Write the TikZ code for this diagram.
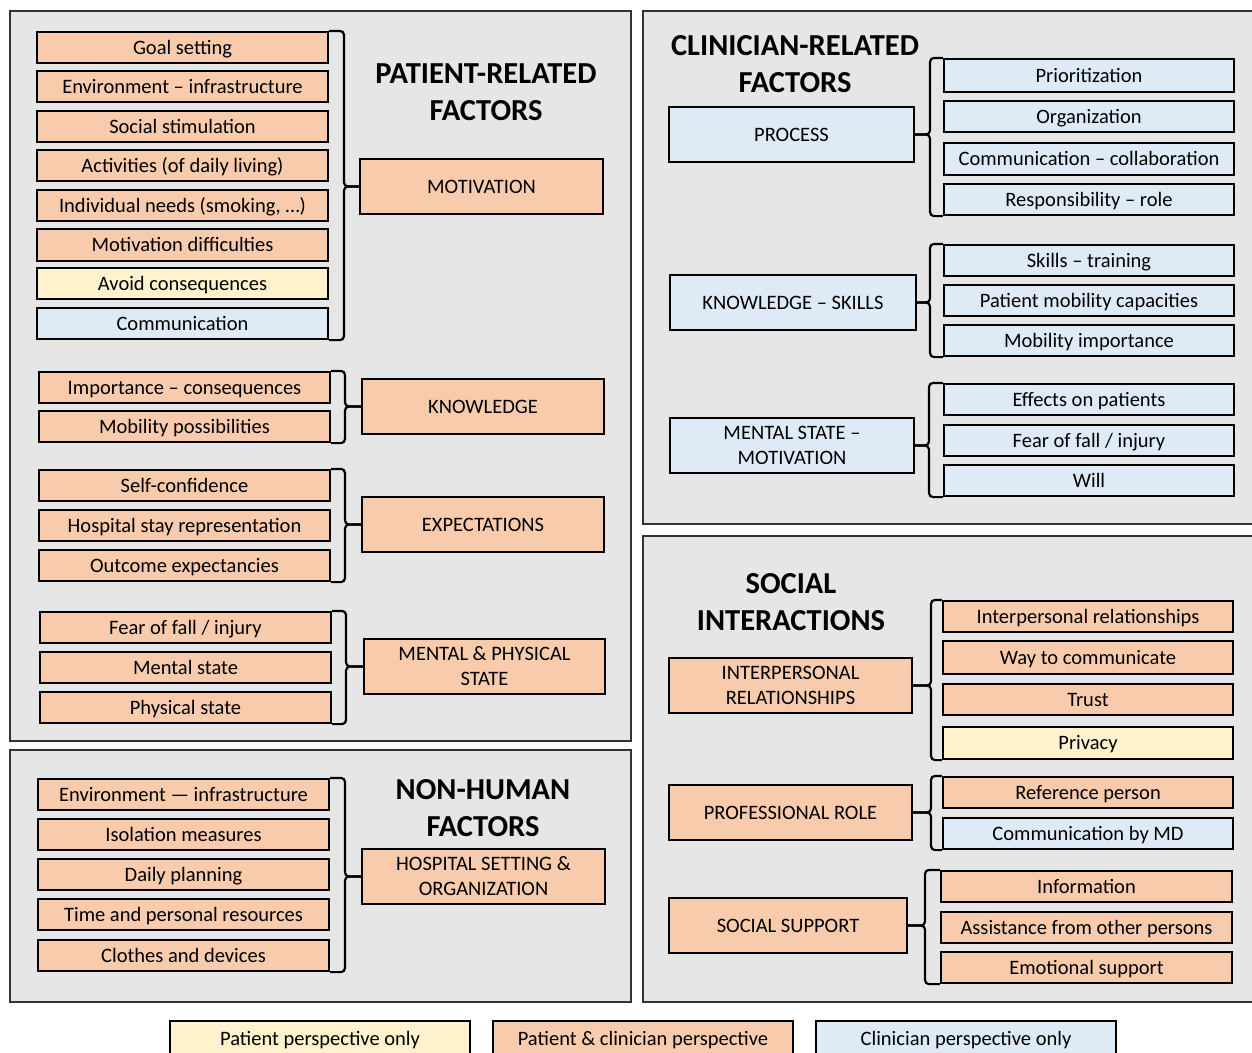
\documentclass[tikz,border=0pt]{standalone}
\usepackage{fontspec}
\setmainfont{Carlito}
\definecolor{orng}{HTML}{F8CBAD}
\definecolor{yel}{HTML}{FFF2CC}
\definecolor{blu}{HTML}{DEEBF7}
\definecolor{pgray}{HTML}{E6E6E6}
\newcommand\bx[8][]{\node[box,#1,fill=#7,minimum width={#5-#3},minimum height={#6-#4}] (#2) at ({(#3+#5)/2},{(#4+#6)/2}) {#8};}
% bracket on right of items (left panels)
\newcommand\brR[4]{\coordinate (bk) at (#3,0);
  \draw[brk] (#1.north east) -- (#1.north east -| bk) -- (#4.west -| bk) -- (#4.west);
  \draw[brk] (#2.south east) -- (#2.south east -| bk) -- (#4.west -| bk) -- (#4.west);}
% bracket on left of items (right panels)
\newcommand\brL[4]{\coordinate (bk) at (#3,0);
  \draw[brk] (#1.north west) -- (#1.north west -| bk) -- (#4.east -| bk) -- (#4.east);
  \draw[brk] (#2.south west) -- (#2.south west -| bk) -- (#4.east -| bk) -- (#4.east);}
\begin{document}
\begin{tikzpicture}[x=1pt,y=-1pt,
  box/.style={draw=black,line width=2.2pt,inner sep=0pt,align=center,font=\fontsize{20.5}{25}\selectfont,text height=13.5pt,text depth=0pt},
  ml/.style={text height={},text depth={},yshift=-1pt},
  panel/.style={draw=black!80,line width=1.5pt,fill=pgray},
  brk/.style={line width=2.2pt,rounded corners=4pt},
  ttl/.style={font=\fontsize{30.5}{37}\selectfont\bfseries,align=center},
  lgt/.style={font=\fontsize{20.5}{25}\selectfont,text height=13.5pt,text depth=0pt}]
\useasboundingbox (0,0) rectangle (1252,1052);
\fill[white] (0,0) rectangle (1252,1052);
% panels
\draw[panel] (10,11) rectangle (631,741);
\draw[panel] (10,750) rectangle (631,1002);
\draw[panel] (643,11) rectangle (1262,524);
\draw[panel] (643,536) rectangle (1262,1002);
% titles
\node[ttl] (tpat) at (486,92) {PATIENT-RELATED\\FACTORS};
\node[ttl] (tnon) at (483,808) {NON-HUMAN\\FACTORS};
\node[ttl] (tcli) at (795,64) {CLINICIAN-RELATED\\FACTORS};
\node[ttl] (tsoc) at (791,602) {SOCIAL\\INTERACTIONS};
% patient: motivation
\bx{m1}{37}{32}{328}{63}{orng}{Goal setting}
\bx{m2}{37}{71}{328}{102}{orng}{Environment – infrastructure}
\bx{m3}{37}{111}{328}{142}{orng}{Social stimulation}
\bx{m4}{37}{150}{328}{181}{orng}{Activities (of daily living)}
\bx{m5}{37}{190}{328}{221}{orng}{Individual needs (smoking, …)}
\bx{m6}{37}{229}{328}{261}{orng}{Motivation difficulties}
\bx{m7}{37}{268}{328}{299}{yel}{Avoid consequences}
\bx{m8}{37}{308}{328}{339}{blu}{Communication}
\bx{mot}{360}{159}{603}{214}{orng}{MOTIVATION}
\brR{m1}{m8}{344}{mot}
% knowledge
\bx{k1}{39}{372}{330}{403}{orng}{Importance – consequences}
\bx{k2}{39}{411}{330}{442}{orng}{Mobility possibilities}
\bx{kno}{362}{379}{604}{434}{orng}{KNOWLEDGE}
\brR{k1}{k2}{345}{kno}
% expectations
\bx{e1}{39}{470}{330}{501}{orng}{Self-confidence}
\bx{e2}{39}{510}{330}{541}{orng}{Hospital stay representation}
\bx{e3}{39}{550}{330}{581}{orng}{Outcome expectancies}
\bx{exp}{362}{497}{604}{552}{orng}{EXPECTATIONS}
\brR{e1}{e3}{345}{exp}
% mental & physical
\bx{p1}{40}{612}{331}{643}{orng}{Fear of fall / injury}
\bx{p2}{40}{652}{331}{683}{orng}{Mental state}
\bx{p3}{40}{692}{331}{723}{orng}{Physical state}
\bx[ml]{mps}{364}{638}{605}{693}{orng}{MENTAL \& PHYSICAL\\STATE}
\brR{p1}{p3}{346}{mps}
% non-human
\bx{n1}{38}{779}{329}{810}{orng}{Environment — infrastructure}
\bx{n2}{38}{819}{329}{850}{orng}{Isolation measures}
\bx{n3}{38}{859}{329}{890}{orng}{Daily planning}
\bx{n4}{38}{899}{329}{930}{orng}{Time and personal resources}
\bx{n5}{38}{940}{329}{971}{orng}{Clothes and devices}
\bx[ml]{hos}{362}{848}{605}{903}{orng}{HOSPITAL SETTING \&\\ORGANIZATION}
\brR{n1}{n5}{345}{hos}
% clinician: process
\bx{c1}{944}{59}{1234}{92}{blu}{Prioritization}
\bx{c2}{944}{101}{1234}{132}{blu}{Organization}
\bx{c3}{944}{143}{1234}{175}{blu}{Communication – collaboration}
\bx{c4}{944}{184}{1234}{215}{blu}{Responsibility – role}
\bx{pro}{669}{107}{914}{162}{blu}{PROCESS}
\brL{c1}{c4}{930}{pro}
% knowledge - skills
\bx{s1}{944}{245}{1234}{276}{blu}{Skills – training}
\bx{s2}{944}{285}{1234}{316}{blu}{Patient mobility capacities}
\bx{s3}{944}{325}{1234}{356}{blu}{Mobility importance}
\bx{ksk}{670}{275}{916}{330}{blu}{KNOWLEDGE – SKILLS}
\brL{s1}{s3}{930}{ksk}
% mental state - motivation
\bx{f1}{944}{384}{1234}{415}{blu}{Effects on patients}
\bx{f2}{944}{425}{1234}{456}{blu}{Fear of fall / injury}
\bx{f3}{944}{465}{1234}{496}{blu}{Will}
\bx[ml]{msm}{670}{417}{914}{472}{blu}{MENTAL STATE –\\MOTIVATION}
\brL{f1}{f3}{929}{msm}
% social: interpersonal
\bx{i1}{943}{601}{1233}{632}{orng}{Interpersonal relationships}
\bx{i2}{943}{641}{1233}{674}{orng}{Way to communicate}
\bx{i3}{943}{684}{1233}{715}{orng}{Trust}
\bx{i4}{943}{727}{1233}{759}{yel}{Privacy}
\bx[ml]{ipr}{669}{657}{912}{712}{orng}{INTERPERSONAL\\RELATIONSHIPS}
\brL{i1}{i4}{931}{ipr}
% professional role
\bx{r1}{943}{777}{1233}{808}{orng}{Reference person}
\bx{r2}{943}{818}{1233}{849}{blu}{Communication by MD}
\bx{prf}{669}{785}{912}{840}{orng}{PROFESSIONAL ROLE}
\brL{r1}{r2}{931}{prf}
% social support
\bx{u1}{941}{871}{1232}{902}{orng}{Information}
\bx{u2}{941}{912}{1232}{943}{orng}{Assistance from other persons}
\bx{u3}{941}{952}{1232}{983}{orng}{Emotional support}
\bx{ssu}{669}{898}{907}{953}{orng}{SOCIAL SUPPORT}
\brL{u1}{u3}{925}{ssu}
% legend
\node[box,fill=yel,minimum width=300,minimum height=42,anchor=north] (l1) at (320,1020) {};
\node[box,fill=orng,minimum width=300,minimum height=42,anchor=north] (l2) at (643,1020) {};
\node[box,fill=blu,minimum width=300,minimum height=42,anchor=north] (l3) at (966,1020) {};
\node[lgt] (lt1) at (320,1039) {Patient perspective only};
\node[lgt] (lt2) at (643,1039) {Patient \& clinician perspective};
\node[lgt] (lt3) at (966,1039) {Clinician perspective only};
\end{tikzpicture}
\end{document}
